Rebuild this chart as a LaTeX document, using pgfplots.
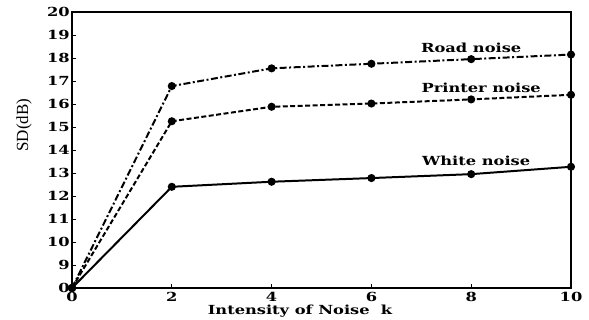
\documentclass[border=0pt]{standalone}
\usepackage{fontspec}
\setmainfont{DejaVu Serif}
\newfontfamily\tnr{Liberation Serif}
\usepackage{pgfplots}
\pgfplotsset{compat=1.18}
\newcommand{\bt}[1]{\scalebox{1.3}[1]{\fontsize{12.5bp}{14bp}\selectfont\bfseries #1}}
\begin{document}
\begin{tikzpicture}
\useasboundingbox (-72bp,-32bp) rectangle (517bp,288bp);
\begin{axis}[
  scale only axis, width=499bp, height=276bp,
  xmin=0, xmax=10, ymin=8, ymax=20,
  axis line style={line width=1.6pt},
  tick align=inside, xtick pos=bottom, ytick pos=left,
  major tick length=4bp, tick style={line width=0.9pt, black},
  xtick={0,2,4,6,8,10},
  xticklabels={\bt{0},\bt{2},\bt{4},\bt{6},\bt{8},\bt{10}},
  ytick={8,9,...,20},
  yticklabels={\bt{0},\bt{9},\bt{10},\bt{11},\bt{12},\bt{13},\bt{14},\bt{15},\bt{16},\bt{17},\bt{18},\bt{19},\bt{20}},
  xticklabel style={inner sep=1bp, yshift=-3bp},
  yticklabel style={inner sep=1bp, xshift=-1bp},
  xlabel={\bt{Intensity of Noise\ \ k}},
  xlabel style={at={(axis description cs:0.457,0)}, anchor=north, inner sep=0pt, yshift=-17bp},
  ylabel={\tnr\fontsize{17bp}{18bp}\selectfont SD(dB)},
  ylabel style={at={(axis description cs:0,0.59)}, anchor=south, inner sep=0pt, yshift=40bp},
  cycle list={{black}},
  every axis plot/.append style={line width=2pt, black, mark=*, mark size=3bp, mark options={solid}},
  clip=false,
]
\addplot[black, dash pattern=on 7pt off 2.5pt on 2pt off 2.5pt] coordinates {(0,8) (2,16.78) (4,17.55) (6,17.75) (8,17.95) (10,18.15)};
\addplot[black, dash pattern=on 5pt off 2.5pt] coordinates {(0,8) (2,15.25) (4,15.88) (6,16.02) (8,16.2) (10,16.4)};
\addplot[black] coordinates {(0,8) (2,12.4) (4,12.62) (6,12.78) (8,12.95) (10,13.27)};
\node at (axis cs:8.0,18.45) {\bt{Road noise}};
\node at (axis cs:8.2,16.72) {\bt{Printer noise}};
\node at (axis cs:8.1,13.55) {\bt{White noise}};
\end{axis}
\end{tikzpicture}
\end{document}
